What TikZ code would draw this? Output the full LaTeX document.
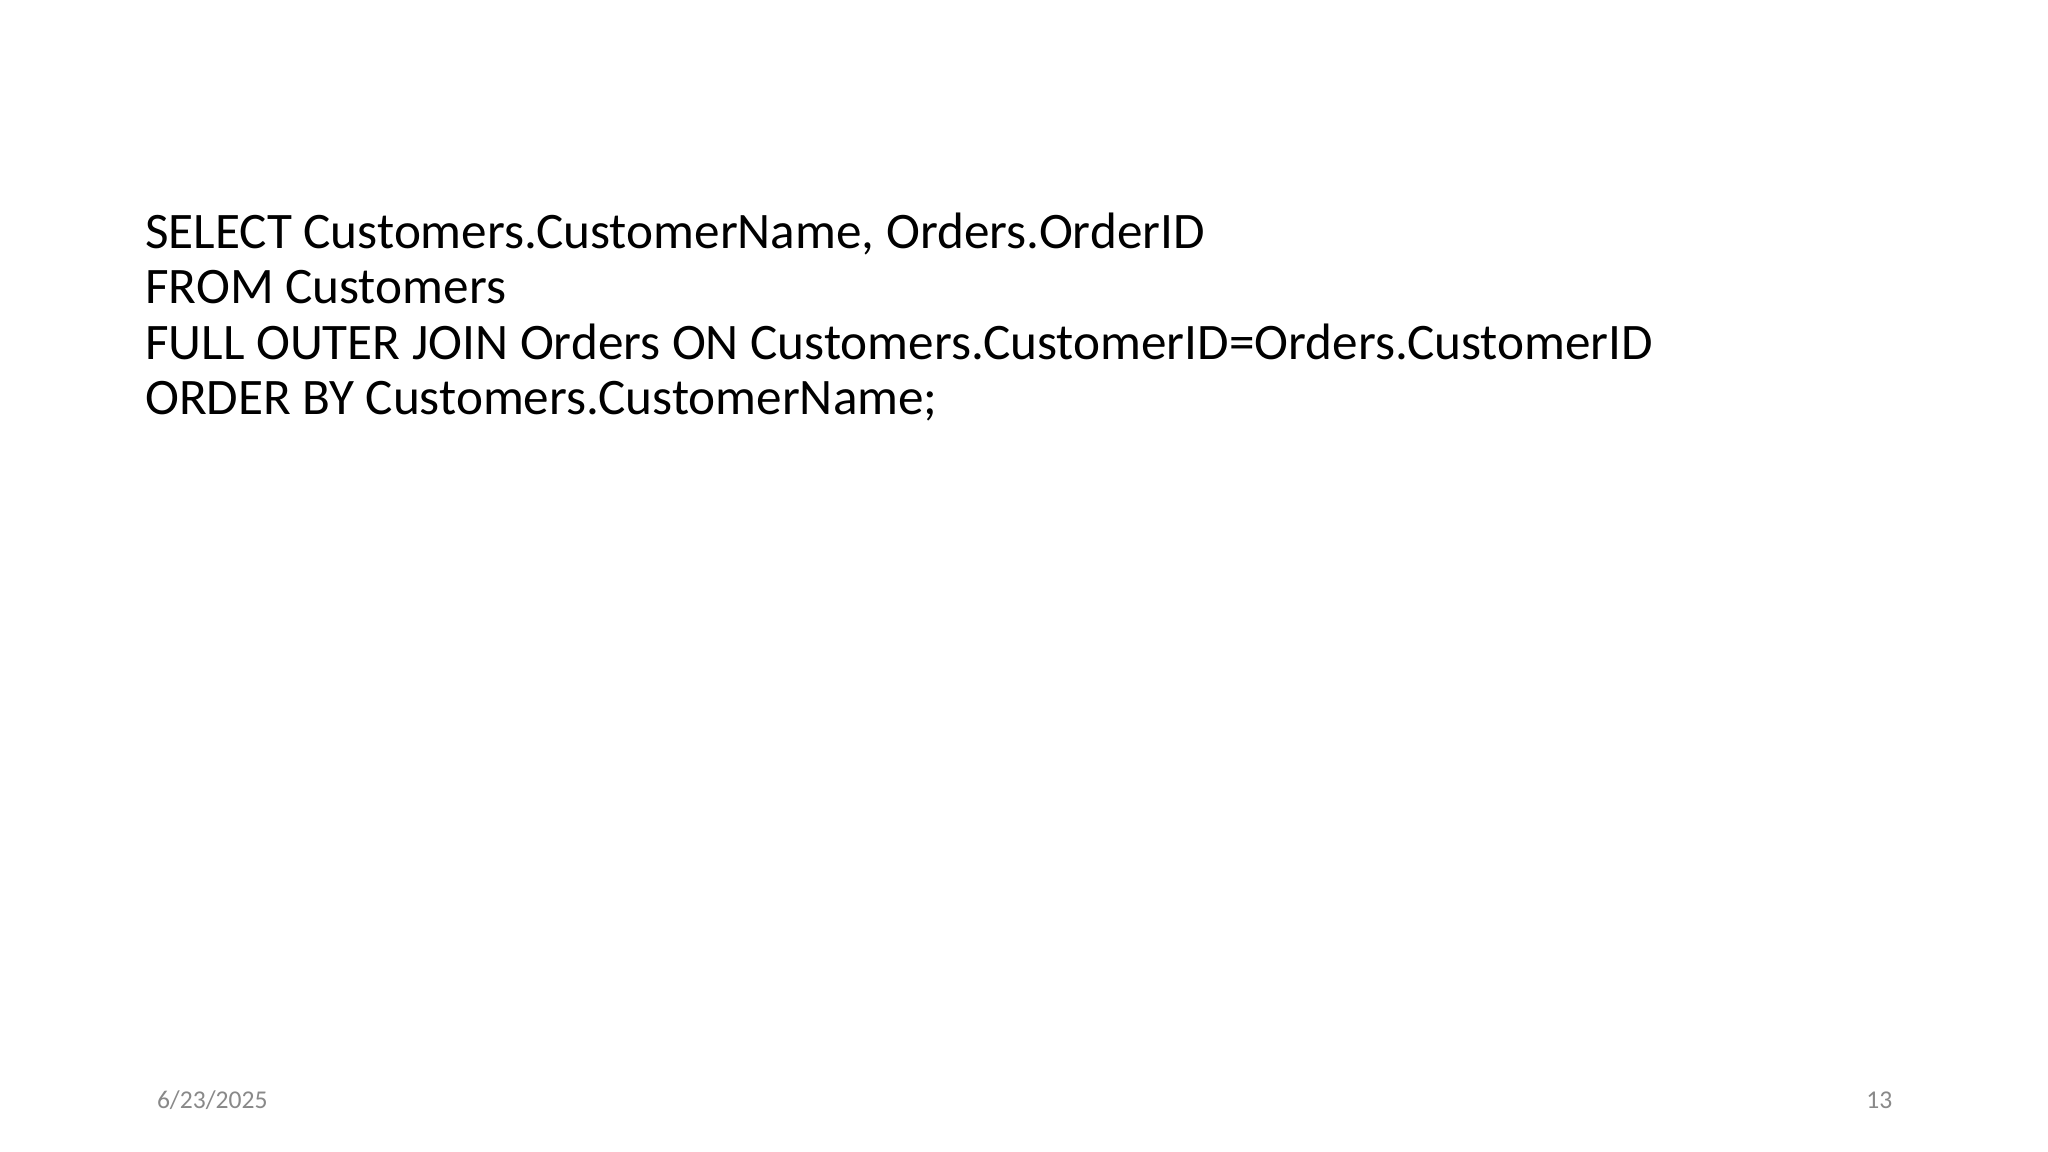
\documentclass[tikz,border=0pt]{standalone}
\usepackage{fontspec}
\setmainfont{Carlito}
\definecolor{footgray}{HTML}{898989}
\tikzset{
  codeline/.style={anchor=base west,inner sep=0pt,font=\fontsize{24}{29}\selectfont},
  foot/.style={inner sep=0pt,text=footgray,font=\fontsize{12}{14}\selectfont}
}
\begin{document}
\begin{tikzpicture}[x=1pt,y=1pt]
  \useasboundingbox[fill=white] (0,0) rectangle (960,-540);
  \node[codeline] (select) at (67.9,-116.6) {SELECT Customers.CustomerName, Orders.OrderID};
  \node[codeline] (from) at (67.9,-142.5) {FROM Customers};
  \node[codeline] (join) at (67.9,-168.3) {FULL OUTER JOIN Orders ON Customers.CustomerID=Orders.CustomerID};
  \node[codeline] (order) at (67.9,-194.2) {ORDER BY Customers.CustomerName;};
  \node[foot,anchor=base west] (date) at (73.4,-519.5) {6/23/2025};
  \node[foot,anchor=base east] (page) at (887.2,-519.5) {13};
\end{tikzpicture}
\end{document}
